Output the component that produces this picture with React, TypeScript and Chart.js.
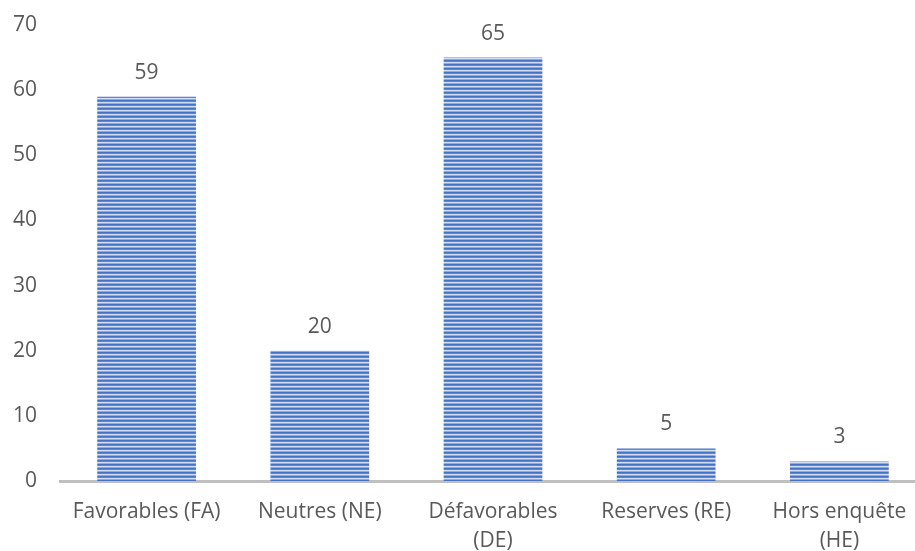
import React, { useEffect, useRef } from "react";
import { Chart, registerables } from "chart.js";

Chart.register(...registerables);

const categories: string[][] = [
  ["Favorables (FA)"],
  ["Neutres (NE)"],
  ["Défavorables", "(DE)"],
  ["Reserves (RE)"],
  ["Hors enquête", "(HE)"],
];
const values: number[] = [59, 20, 65, 5, 3];
const yTicks: number[] = [0, 10, 20, 30, 40, 50, 60, 70];

const FONT = "'Open Sans', sans-serif";
const TEXT = "#595959";
const SIZE = 21;

// Horizontal-stripe fill for the bars
function makeStripes(ctx: CanvasRenderingContext2D): CanvasPattern | string {
  const c = document.createElement("canvas");
  c.width = 4;
  c.height = 4;
  const p = c.getContext("2d");
  if (!p) return "#4472c4";
  const rows = ["#4472c4", "#5f86d0", "#d2ddf2", "#90abdf"];
  rows.forEach((col, i) => {
    p.fillStyle = col;
    p.fillRect(0, i, 4, 1);
  });
  return ctx.createPattern(c, "repeat") || "#4472c4";
}

// Value labels above each bar
const valueLabels = {
  id: "valueLabels",
  afterDatasetsDraw(chart: any) {
    const { ctx } = chart;
    const meta = chart.getDatasetMeta(0);
    ctx.save();
    ctx.font = `${SIZE}px ${FONT}`;
    ctx.fillStyle = TEXT;
    ctx.textAlign = "center";
    ctx.textBaseline = "middle";
    meta.data.forEach((bar: any, i: number) => {
      ctx.fillText(String(values[i]), bar.x, bar.y - 24);
    });
    ctx.restore();
  },
};

export default function App() {
  const ref = useRef<HTMLCanvasElement | null>(null);

  useEffect(() => {
    document.documentElement.style.overflow = "hidden";
    document.body.style.overflow = "hidden";
    const canvas = ref.current;
    if (!canvas) return;
    const ctx = canvas.getContext("2d");
    if (!ctx) return;
    const chart = new Chart(ctx, {
      type: "bar",
      data: {
        labels: categories,
        datasets: [
          {
            data: values,
            backgroundColor: makeStripes(ctx) as any,
            borderWidth: 0,
            barPercentage: 0.57,
            categoryPercentage: 1,
          },
        ],
      },
      options: {
        animation: false,
        responsive: false,
        maintainAspectRatio: false,
        layout: { padding: { top: 25, left: 0, right: 0, bottom: 0 } },
        plugins: {
          legend: { display: false },
          tooltip: { enabled: false },
        },
        scales: {
          x: {
            grid: { display: false, drawTicks: false },
            border: { display: true, color: "#bfbfbf", width: 3 },
            ticks: {
              color: TEXT,
              font: { family: FONT, size: SIZE, lineHeight: 1.38 },
              padding: 17,
              maxRotation: 0,
              autoSkip: false,
            },
            afterFit(scale: any) {
              scale.height = 70;
            },
          },
          y: {
            min: 0,
            max: 70,
            afterBuildTicks(scale: any) {
              scale.ticks = yTicks.map((v) => ({ value: v }));
            },
            grid: { display: false, drawTicks: false },
            border: { display: false },
            ticks: {
              color: TEXT,
              font: { family: FONT, size: SIZE },
              padding: 23,
            },
            afterFit(scale: any) {
              scale.width = 60;
              scale.paddingTop = 0;
              scale.paddingBottom = 0;
            },
          },
        },
      },
      plugins: [valueLabels],
    });
    return () => chart.destroy();
  }, []);

  return (
    <div style={{ position: "absolute", left: 0, top: 0, width: 915, height: 551, overflow: "hidden", background: "#fff" }}>
      <canvas ref={ref} width={926} height={551} style={{ display: "block" }} />
    </div>
  );
}
